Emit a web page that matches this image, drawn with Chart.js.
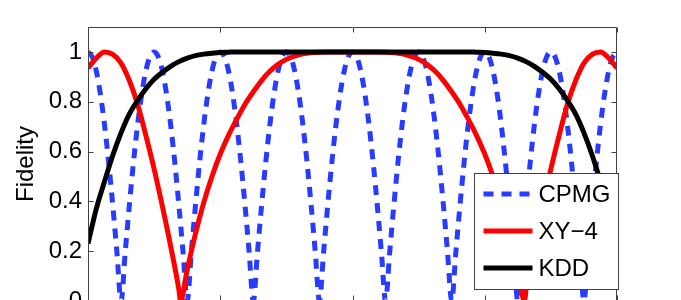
<!DOCTYPE html>
<html>
<head>
<meta charset="utf-8">
<script src="https://cdn.jsdelivr.net/npm/chart.js@4/dist/chart.umd.min.js"></script>
<style>
  html, body { margin: 0; padding: 0; width: 681px; height: 300px; overflow: hidden; background: #fff; }
  #wrap { position: relative; width: 681px; height: 300px; overflow: hidden; }
  canvas { display: block; }
</style>
</head>
<body>
<div id="wrap"><canvas id="c" width="681" height="326"></canvas></div>
<script>
// ---------------- data ----------------
const seriesNames = ['CPMG', 'XY\u22124', 'KDD'];
const yTicks = [0, 0.2, 0.4, 0.6, 0.8, 1];
const xTicks = [0, 1, 2, 3, 4];
const yLabel = 'Fidelity';

// CPMG sampled every 1/32 of an x unit
const tCPMG = Array.from({ length: 129 }, (_, i) => i / 32);
const cpmg = [
  1, 0.981, 0.924, 0.831, 0.707, 0.556, 0.383, 0.195, 0, 0.195, 0.383, 0.556, 0.707, 0.831, 0.924, 0.981,
  1, 0.981, 0.924, 0.831, 0.707, 0.556, 0.383, 0.195, 0, 0.195, 0.383, 0.556, 0.707, 0.831, 0.924, 0.981,
  1, 0.981, 0.924, 0.831, 0.707, 0.556, 0.383, 0.195, 0, 0.195, 0.383, 0.556, 0.707, 0.831, 0.924, 0.981,
  1, 0.981, 0.924, 0.831, 0.707, 0.556, 0.383, 0.195, 0, 0.195, 0.383, 0.556, 0.707, 0.831, 0.924, 0.981,
  1, 0.981, 0.924, 0.831, 0.707, 0.556, 0.383, 0.195, 0, 0.195, 0.383, 0.556, 0.707, 0.831, 0.924, 0.981,
  1, 0.981, 0.924, 0.831, 0.707, 0.556, 0.383, 0.195, 0, 0.195, 0.383, 0.556, 0.707, 0.831, 0.924, 0.981,
  1, 0.981, 0.924, 0.831, 0.707, 0.556, 0.383, 0.195, 0, 0.195, 0.383, 0.556, 0.707, 0.831, 0.924, 0.981,
  1, 0.981, 0.924, 0.831, 0.707, 0.556, 0.383, 0.195, 0, 0.195, 0.383, 0.556, 0.707, 0.831, 0.924, 0.981,
  1
];

// XY-4
const tXY4 = [
  0, 0.0625, 0.125, 0.1875, 0.25, 0.3125, 0.375, 0.4375, 0.5, 0.5625, 0.625, 0.6875, 0.70,
  0.75, 0.8125, 0.875, 0.9375, 1, 1.0625, 1.125, 1.1875, 1.25, 1.3125, 1.375, 1.4375, 1.5,
  1.5625, 1.625, 1.6875, 1.75, 1.8125, 1.875, 1.9375, 2,
  2.0625, 2.125, 2.1875, 2.25, 2.3125, 2.375, 2.4375, 2.5, 2.5625, 2.625, 2.6875, 2.75,
  2.8125, 2.875, 2.9375, 3, 3.0625, 3.125, 3.1875, 3.25, 3.30, 3.3125, 3.375, 3.4375, 3.5,
  3.5625, 3.625, 3.6875, 3.75, 3.8125, 3.875, 3.9375, 4
];
const xy4 = [
  0.935, 0.975, 1.0, 0.99, 0.955, 0.885, 0.79, 0.665, 0.53, 0.38, 0.22, 0.045, 0,
  0.125, 0.27, 0.395, 0.5, 0.59, 0.665, 0.73, 0.79, 0.84, 0.885, 0.922, 0.95, 0.97,
  0.983, 0.992, 0.997, 0.999, 1, 1, 1, 1,
  1, 1, 1, 0.999, 0.997, 0.992, 0.983, 0.97, 0.95, 0.922, 0.885, 0.84,
  0.79, 0.73, 0.665, 0.59, 0.5, 0.395, 0.27, 0.125, 0, 0.045, 0.22, 0.38, 0.53,
  0.665, 0.79, 0.885, 0.955, 0.99, 1.0, 0.975, 0.935
];

// KDD sampled every 1/16 of an x unit
const tKDD = Array.from({ length: 65 }, (_, i) => i / 16);
const kdd = [
  0.23, 0.37, 0.48, 0.585, 0.675, 0.75, 0.805, 0.852, 0.89, 0.918, 0.942, 0.961, 0.975, 0.985, 0.991, 0.995,
  0.998, 0.999, 1, 1, 1, 1, 1, 1, 1, 1, 1, 1, 1, 1, 1, 1,
  1, 1, 1, 1, 1, 1, 1, 1, 1, 1, 1, 1, 1, 1, 1, 0.999,
  0.998, 0.995, 0.991, 0.985, 0.975, 0.961, 0.942, 0.918, 0.89, 0.852, 0.805, 0.75, 0.675, 0.585, 0.48, 0.37,
  0.23
];

// ---------------- chart ----------------
const FONT = '"Liberation Sans", Arial, Helvetica, sans-serif';
const pts = (ts, vs) => ts.map((t, i) => ({ x: t, y: vs[i] }));

const framePlugin = {
  id: 'frame',
  afterDatasetsDraw(chart) {
    const { ctx, chartArea: a, scales } = chart;
    const L = Math.round(a.left) + 0.5, R = Math.round(a.right) - 0.5;
    const T = Math.round(a.top) + 0.5, B = Math.round(a.bottom) - 0.5;
    ctx.save();
    ctx.strokeStyle = '#404040';
    ctx.lineWidth = 1;
    ctx.beginPath();
    ctx.rect(L, T, R - L, B - T);
    const tl = 5;
    xTicks.forEach(v => {
      const x = Math.round(scales.x.getPixelForValue(v)) + 0.5;
      ctx.moveTo(x, T); ctx.lineTo(x, T + tl);
      ctx.moveTo(x, B); ctx.lineTo(x, B - tl);
    });
    yTicks.forEach(v => {
      const y = Math.round(scales.y.getPixelForValue(v)) + 0.5;
      ctx.moveTo(L, y); ctx.lineTo(L + tl, y);
      ctx.moveTo(R, y); ctx.lineTo(R - tl, y);
    });
    ctx.stroke();
    ctx.restore();
  },
  afterDraw(chart) {
    const { ctx, chartArea: a } = chart;
    const right = Math.round(a.right) + 1.5;
    const left = right - 144;
    const bottom = Math.round(a.bottom) - 11.5;
    const top = bottom - 116;
    ctx.save();
    ctx.fillStyle = '#fff';
    ctx.fillRect(left, top, right - left, bottom - top);
    ctx.strokeStyle = '#404040';
    ctx.lineWidth = 1;
    ctx.strokeRect(left, top, right - left, bottom - top);
    ctx.font = '24px ' + FONT;
    ctx.textBaseline = 'middle';
    ctx.textAlign = 'left';
    chart.data.datasets.forEach((ds, i) => {
      const y = Math.round(top + 20 + i * 37);
      ctx.beginPath();
      ctx.strokeStyle = ds.borderColor;
      ctx.lineWidth = ds.borderWidth;
      ctx.setLineDash(ds.borderDash || []);
      ctx.lineCap = 'butt';
      ctx.moveTo(left + 9, y);
      ctx.lineTo(left + 58, y);
      ctx.stroke();
      ctx.setLineDash([]);
      ctx.fillStyle = '#000';
      ctx.fillText(ds.label, left + 64, y + 1);
    });
    ctx.restore();
  }
};

new Chart(document.getElementById('c'), {
  type: 'line',
  data: {
    datasets: [
      { label: seriesNames[0], data: pts(tCPMG, cpmg), borderColor: '#283cff', borderWidth: 5,
        borderDash: [10, 8], order: 3 },
      { label: seriesNames[1], data: pts(tXY4, xy4), borderColor: '#ff0000', borderWidth: 5, order: 2 },
      { label: seriesNames[2], data: pts(tKDD, kdd), borderColor: '#000000', borderWidth: 5, order: 1 }
    ]
  },
  options: {
    responsive: false,
    animation: false,
    devicePixelRatio: 1,
    layout: { padding: { left: 0, top: 27, right: 64, bottom: 25 } },
    elements: {
      point: { radius: 0, hoverRadius: 0 },
      line: { cubicInterpolationMode: 'monotone', fill: false, borderCapStyle: 'butt', borderJoinStyle: 'round' }
    },
    plugins: { legend: { display: false }, tooltip: { enabled: false } },
    events: [],
    scales: {
      x: {
        type: 'linear', min: 0, max: 4, display: false
      },
      y: {
        type: 'linear', min: 0, max: 1.1,
        afterBuildTicks: s => { s.ticks = yTicks.map(v => ({ value: v })); },
        afterFit: s => { s.width = 88; },
        grid: { display: false, drawTicks: false },
        border: { display: false },
        ticks: {
          padding: 6, color: '#000',
          font: { family: FONT, size: 24 },
          callback: v => String(Math.round(v * 10) / 10)
        },
        title: {
          display: true, text: yLabel, color: '#000',
          font: { family: FONT, size: 24 },
          padding: { top: 12, bottom: 0 }
        }
      }
    }
  },
  plugins: [framePlugin]
});
</script>
</body>
</html>
